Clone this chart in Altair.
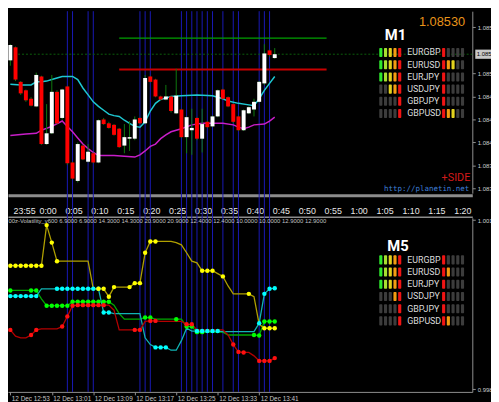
import altair as alt
import pandas as pd

# ---------------- data: M1 candles (minutes after 0:00) ----------------
candle_t = list(range(-6, 46))
candle_open = [1.08522, 1.08539, 1.08494, 1.08483, 1.08472, 1.08462, 1.08501, 1.08413, 1.08427, 1.08481,
               1.08447, 1.08488, 1.08389, 1.08365, 1.08411, 1.08390, 1.08401, 1.08389, 1.08445, 1.08440,
               1.08438, 1.08433, 1.08411, 1.08420, 1.08420, 1.08447, 1.08440, 1.08501, 1.08497, 1.08475,
               1.08471, 1.08475, 1.08453, 1.08458, 1.08422, 1.08431, 1.08447, 1.08420, 1.08442, 1.08436,
               1.08449, 1.08484, 1.08474, 1.08465, 1.08449, 1.08431, 1.08453, 1.08458, 1.08468, 1.08492,
               1.08535, 1.08525]
candle_close = [1.08542, 1.08497, 1.08479, 1.08470, 1.08463, 1.08503, 1.08413, 1.08427, 1.08481, 1.08440,
                1.08484, 1.08388, 1.08368, 1.08413, 1.08393, 1.08403, 1.08389, 1.08444, 1.08439, 1.08434,
                1.08425, 1.08409, 1.08422, 1.08422, 1.08445, 1.08440, 1.08499, 1.08494, 1.08475, 1.08471,
                1.08475, 1.08456, 1.08476, 1.08422, 1.08448, 1.08434, 1.08420, 1.08439, 1.08435, 1.08449,
                1.08483, 1.08472, 1.08462, 1.08442, 1.08431, 1.08457, 1.08461, 1.08468, 1.08494, 1.08531,
                1.08529, 1.08530]
candle_high = [1.08543, 1.08540, 1.08495, 1.08484, 1.08474, 1.08506, 1.08502, 1.08465, 1.08503, 1.08483,
               1.08485, 1.08489, 1.08390, 1.08415, 1.08412, 1.08413, 1.08402, 1.08445, 1.08447, 1.08442,
               1.08439, 1.08434, 1.08439, 1.08443, 1.08449, 1.08448, 1.08503, 1.08502, 1.08498, 1.08476,
               1.08490, 1.08476, 1.08511, 1.08459, 1.08449, 1.08459, 1.08448, 1.08459, 1.08443, 1.08450,
               1.08484, 1.08485, 1.08475, 1.08466, 1.08450, 1.08458, 1.08462, 1.08472, 1.08495, 1.08543,
               1.08536, 1.08538]
candle_low = [1.08515, 1.08495, 1.08477, 1.08468, 1.08462, 1.08461, 1.08412, 1.08412, 1.08426, 1.08439,
              1.08445, 1.08386, 1.08367, 1.08363, 1.08392, 1.08389, 1.08388, 1.08388, 1.08438, 1.08433,
              1.08424, 1.08408, 1.08401, 1.08404, 1.08418, 1.08439, 1.08439, 1.08493, 1.08474, 1.08470,
              1.08470, 1.08454, 1.08452, 1.08421, 1.08401, 1.08399, 1.08418, 1.08402, 1.08434, 1.08435,
              1.08448, 1.08471, 1.08461, 1.08440, 1.08430, 1.08430, 1.08452, 1.08449, 1.08467, 1.08490,
              1.08527, 1.08524]

upper_t = [-6, -4, -2, -1, 0, 1, 2, 4, 6, 7, 8, 9, 10, 11, 12, 13, 14, 15, 16, 17, 18, 19, 20, 21, 22,
           23, 24, 25, 27, 30, 33, 35, 36, 38, 40, 41, 42, 43, 44, 45]
upper_v = [1.08491, 1.08490, 1.08490, 1.08494, 1.08494, 1.08495, 1.08497, 1.08501, 1.08501, 1.08497,
           1.08486, 1.08477, 1.08468, 1.08462, 1.08457, 1.08452, 1.08450, 1.08449, 1.08444, 1.08440,
           1.08436, 1.08435, 1.08442, 1.08456, 1.08466, 1.08471, 1.08473, 1.08475, 1.08476, 1.08477,
           1.08476, 1.08472, 1.08469, 1.08466, 1.08464, 1.08463, 1.08472, 1.08483, 1.08492, 1.08501]
lower_t = [-6, -3, -1, 0, 2, 4, 5, 6, 7, 8, 9, 10, 11, 14, 16, 18, 19, 20, 21, 22, 23, 24, 25, 27, 29,
           31, 35, 37, 38, 39, 40, 41, 43, 44, 45]
lower_v = [1.08424, 1.08426, 1.08427, 1.08431, 1.08436, 1.08443, 1.08436, 1.08429, 1.08421, 1.08413,
           1.08407, 1.08402, 1.08398, 1.08398, 1.08397, 1.08396, 1.08399, 1.08404, 1.08410, 1.08413,
           1.08420, 1.08425, 1.08429, 1.08433, 1.08438, 1.08440, 1.08440, 1.08438, 1.08435, 1.08433,
           1.08435, 1.08438, 1.08439, 1.08443, 1.08448]

level_price = [1.08551, 1.08510]
level_start = [15, 15]
level_end = [55, 55]
current_price = 1.08530
current_start = -4.5

marker_t = [5, 6, 9, 10, 19, 20, 21, 27, 28, 29, 30, 31, 32, 33, 35, 37, 38, 42, 43, 44]

time_tick_t = list(range(-5, 81, 5))
time_tick_labels = ["23:55", "0:00", "0:05", "0:10", "0:15", "0:20", "0:25", "0:30", "0:35",
                    "0:40", "0:45", "0:50", "0:55", "1:00", "1:05", "1:10", "1:15", "1:20"]
price_ticks = [1.08565, 1.08505, 1.08475, 1.08445, 1.08415, 1.08385, 1.08355]

# ---------------- data: volatility panel ----------------
vol_t = list(range(-6, 46))
vol_yellow = [1.00019] * 7 + [1.00091, 1.00060, 1.00027] + [1.00027] * 6 + [
    0.99978, 0.99978, 0.99978, 0.99964, 0.99981, 0.99981, 0.99981, 0.99981, 0.99988, 0.99988,
    1.00042, 1.00062, 1.00062, 1.00062, 1.00062, 1.00062, 1.00060, 1.00056, 1.00042, 1.00027,
    1.00024, 1.00010, 1.00010, 1.00010, 1.00005, 1.00000, 0.99983, 0.99969, 0.99969, 0.99969,
    0.99969, 0.99964, 0.99915, 0.99908, 0.99908, 0.99908]
vol_green = [0.99975] * 6 + [0.99960] + [0.99948] * 5 + [0.99955] * 8 + [0.99949, 0.99934] + \
    [0.99924] * 4 + [0.99927] * 2 + [0.99924] * 6 + [0.99911] * 2 + [0.99901] * 6 + \
    [0.99896] * 6 + [0.99895] + [0.99920] * 3
vol_cyan = [0.99965] * 6 + [0.99978] * 12 + [0.99936] * 2 + [0.99934] * 6 + [0.99891, 0.99879] + \
    [0.99874] * 3 + [0.99869] * 2 + [0.99886, 0.99908, 0.99903] + [0.99903] * 5 + [0.99902] * 7 + \
    [0.99917, 0.99969, 0.99978, 0.99979]
vol_red = [0.99905, 0.99894, 0.99891, 0.99891, 0.99896, 0.99905] + [0.99907] * 4 + \
    [0.99911, 0.99929, 0.99948] + [0.99949] * 7 + [0.99940] + [0.99905] * 5 + [0.99920] + \
    [0.99921] * 2 + [0.99920] * 5 + [0.99915] * 2 + [0.99905] * 6 + \
    [0.99896, 0.99879, 0.99866, 0.99865, 0.99865, 0.99859] + [0.99850] * 3 + [0.99855]

yellow_dots = [-6, -5, -4, -3, -2, -1, 0, 1, 2, 3, 11, 12, 13, 14, 17, 18, 19, 20, 21, 22, 31, 32, 33, 35, 40, 43, 44, 45]
green_dots = [-6, -2, -1, 1, 2, 3, 4, 5, 6, 7, 8, 9, 10, 11, 12, 13, 20, 21, 26, 28, 29, 30, 31, 41, 42, 43, 44, 45]
cyan_dots = [-6, -5, -4, -3, -2, -1, 3, 4, 5, 6, 7, 8, 9, 10, 11, 12, 13, 22, 23, 24, 30, 31, 32, 33, 34, 42, 43, 44, 45]
red_dots = [-6, -2, -1, 4, 5, 6, 7, 8, 9, 10, 11, 12, 18, 19, 21, 22, 28, 29, 37, 38, 39, 42, 43, 44, 45]

date_tick_t = [-6, 2, 10, 18, 26, 34, 42]
date_tick_labels = ["12 Dec 12:53", "12 Dec 13:01", "12 Dec 13:09", "12 Dec 13:17",
                    "12 Dec 13:25", "12 Dec 13:33", "12 Dec 13:41"]
vol_ticks = [1.001, 0.998]
vol_header = ("00z-Volatility_v600 6.9000 6.9000 14.3000 14.3000 20.9000 20.9000 "
              "12.4000 12.4000 10.0000 10.0000 12.9000 12.9000")

# ---------------- data: strength panels ----------------
pairs = ["EURGBP", "EURUSD", "EURJPY", "USDJPY", "GBPJPY", "GBPUSD"]
m1_left = [["G", "L", "Y", "O", "R"], ["G", "L", "Y", "O", "R"], ["G", "L", "Y", "O", "R"],
           ["-", "-", "Y", "O", "R"], ["-", "-", "-", "-", "R"], ["-", "-", "-", "-", "R"]]
m1_right = [["R", "-", "-", "-", "-"], ["R", "O", "Y", "-", "-"], ["R", "-", "-", "-", "-"],
            ["R", "-", "-", "-", "-"], ["R", "-", "-", "-", "-"], ["R", "O", "Y", "-", "-"]]
m5_left = [["G", "L", "Y", "O", "R"], ["G", "L", "Y", "O", "R"], ["G", "L", "Y", "O", "R"],
           ["-", "-", "-", "O", "R"], ["-", "-", "-", "-", "R"], ["-", "-", "-", "-", "R"]]
m5_right = [["R", "-", "-", "-", "-"], ["R", "O", "-", "-", "-"], ["R", "-", "-", "-", "-"],
            ["R", "-", "-", "-", "-"], ["R", "-", "-", "-", "-"], ["R", "O", "-", "-", "-"]]
price_text = "1.08530"

# ---------------- layout / styles ----------------
W, H = 472, 387
T_DOMAIN = [-6.45, 83.11]
PRICE_DOMAIN = [1.08349, 1.08586]
PRICE_RANGE = [185, 0]
VOL_DOMAIN = [0.99795, 1.00104]
VOL_RANGE = [387, 210]
SLOT_DOMAIN = [-78.96, 19.375]
ROW_DOMAIN = [-3.387, 27.823]
NARROW = "Roboto, Liberation Sans, sans-serif"
code_dom = ["G", "L", "Y", "O", "R", "-"]
code_col = ["#2ee62e", "#a6e030", "#e2d21e", "#f39c12", "#f01414", "#3c3c3c"]


def tx(field="t", axis=None):
    return alt.X(f"{field}:Q", scale=alt.Scale(domain=T_DOMAIN, nice=False, zero=False), axis=axis)


def py(field, axis=None):
    return alt.Y(f"{field}:Q", scale=alt.Scale(domain=PRICE_DOMAIN, range=PRICE_RANGE, nice=False, zero=False), axis=axis)


def vy(field="v", axis=None):
    return alt.Y(f"{field}:Q", scale=alt.Scale(domain=VOL_DOMAIN, range=VOL_RANGE, nice=False, zero=False), axis=axis)


def sx(field="s", axis=None):
    return alt.X(f"{field}:Q", scale=alt.Scale(domain=SLOT_DOMAIN, nice=False, zero=False), axis=axis)


def ry(field="r", axis=None):
    return alt.Y(f"{field}:Q", scale=alt.Scale(domain=ROW_DOMAIN, range=[0, H], nice=False, zero=False), axis=axis)


def arr_expr(labels, start, step):
    return "[" + ",".join(f"'{s}'" for s in labels) + f"][round((datum.value - ({start})) / {step})]"


time_axis = alt.Axis(orient="bottom", offset=-200, values=time_tick_t,
                     labelExpr=arr_expr(time_tick_labels, -5, 5), labelAlign="left", labelOffset=-2.5,
                     labelFlush=False, labelOverlap=False, ticks=False, labelPadding=12,
                     labelColor="#e6e6e6", labelFontSize=9, labelFont="Liberation Sans",
                     domainColor="#8c8c8c", domainWidth=3, grid=False, title=None)
date_axis = alt.Axis(orient="bottom", values=date_tick_t, labelExpr=arr_expr(date_tick_labels, -6, 8),
                     labelAlign="left", labelOffset=1, labelFlush=False, labelOverlap=False,
                     tickColor="#909090", tickSize=3, labelPadding=1, labelFontSize=6.5,
                     labelColor="#c8c8c8", labelFont="Liberation Sans", domainColor="#909090",
                     grid=False, title=None)
price_axis = alt.Axis(orient="right", values=price_ticks, format=".5f", labelFontSize=6,
                      labelColor="#d0d0d0", labelFont="Liberation Sans", tickColor="#909090", tickSize=3,
                      labelPadding=2, domainColor="#909090", grid=False, title=None,
                      labelFlush=False, labelOverlap=False)
vol_axis = alt.Axis(orient="right", values=vol_ticks, format=".3f", labelFontSize=6,
                    labelColor="#d0d0d0", labelFont="Liberation Sans", tickColor="#909090", tickSize=3,
                    labelPadding=2, domainColor="#909090", grid=False, title=None,
                    labelFlush=False, labelOverlap=False)
sep_axis = alt.Axis(orient="bottom", offset=-178, labels=False, ticks=False, grid=False, title=None,
                    domainColor="#8c8c8c", domainWidth=1.5)

# ---------------- tables ----------------
candles = pd.DataFrame({"t": candle_t, "open": candle_open, "close": candle_close,
                        "high": candle_high, "low": candle_low})
candles["dir"] = ["up" if c >= o else "down" for o, c in zip(candle_open, candle_close)]
markers = pd.DataFrame({"t": marker_t})
upper = pd.DataFrame({"t": upper_t, "p": upper_v})
lower = pd.DataFrame({"t": lower_t, "p": lower_v})
levels = pd.DataFrame({"start": level_start, "end": level_end, "price": level_price, "kind": ["hi", "lo"]})
current = pd.DataFrame({"start": [current_start], "end": [T_DOMAIN[1]], "price": [current_price],
                        "label": [f"{current_price:.5f}"]})

series_names = ["green", "cyan", "red", "yellow"]
series_vals = {"yellow": vol_yellow, "green": vol_green, "cyan": vol_cyan, "red": vol_red}
series_dots = {"yellow": yellow_dots, "green": green_dots, "cyan": cyan_dots, "red": red_dots}
line_cols = ["#00a800", "#10b4b4", "#b40000", "#b0a000"]
dot_cols = ["#00ff00", "#00ffff", "#ff1010", "#ffff00"]
rows = []
for name in series_names:
    for t, v in zip(vol_t, series_vals[name]):
        rows.append({"t": t, "v": v, "series": name, "dot": t in series_dots[name]})
vol = pd.DataFrame(rows)

blocks = []
labels = []
for base, left, right in [(0, m1_left, m1_right), (17, m5_left, m5_right)]:
    for i, pair in enumerate(pairs):
        labels.append({"s": 5.6, "r": base + i, "text": pair})
        for j, code in enumerate(left[i]):
            blocks.append({"s": j, "r": base + i, "code": code})
        for j, code in enumerate(right[i]):
            blocks.append({"s": 13.3 + j, "r": base + i, "code": code})
blocks = pd.DataFrame(blocks)
labels = pd.DataFrame(labels)
titles = pd.DataFrame({"s": [3.1, 3.65], "r": [-1.41, 15.86], "text": ["M1", "M5"]})

# ---------------- layers ----------------
blue = alt.Chart(markers).mark_rule(color="#1a1ab8", strokeWidth=1).encode(x=tx("t", time_axis))

lvl = alt.Chart(levels).mark_rule().encode(
    x=tx("start"), x2="end:Q", y=py("price"),
    color=alt.Color("kind:N", scale=alt.Scale(domain=["hi", "lo"], range=["#00a000", "#c80000"]), legend=None),
    strokeWidth=alt.StrokeWidth("kind:N", scale=alt.Scale(domain=["hi", "lo"], range=[1.2, 2]), legend=None))
cur = alt.Chart(current).mark_rule(color="#0b5f0b", strokeDash=[2, 2], strokeWidth=1).encode(
    x=tx("start"), x2="end:Q", y=py("price"))

up_line = alt.Chart(upper).mark_line(color="#1ec8d2", strokeWidth=1.5).encode(x=tx("t"), y=py("p"))
lo_line = alt.Chart(lower).mark_line(color="#c81ec8", strokeWidth=1.5).encode(x=tx("t"), y=py("p"))

wicks = alt.Chart(candles).mark_rule(color="#0f7a0f", strokeWidth=1).encode(
    x=tx("t"), y=py("low"), y2="high:Q")
bodies = alt.Chart(candles).mark_rule(strokeWidth=4).encode(
    x=tx("t"), y=py("open", price_axis), y2="close:Q",
    color=alt.Color("dir:N", scale=alt.Scale(domain=["up", "down"], range=["#ffffff", "#ff0000"]), legend=None))

cur_box = alt.Chart(current).mark_rect(color="#c8c8c8").transform_calculate(
    lo="datum.price - 0.00006", hi="datum.price + 0.00006").encode(
    x=alt.value(475), x2=alt.value(495), y=py("lo"), y2="hi:Q")
cur_txt = alt.Chart(current).mark_text(align="left", baseline="middle", fontSize=6, color="#000000",
                                       font="Liberation Sans").encode(
    x=alt.value(476.5), y=py("price"), text="label:N")

vol_lines = alt.Chart(vol).mark_line(strokeWidth=1.3).encode(
    x=tx("t", date_axis), y=vy("v", vol_axis),
    color=alt.Color("series:N", scale=alt.Scale(domain=series_names, range=line_cols), legend=None))
vol_pts = alt.Chart(vol).transform_filter("datum.dot").mark_circle(size=20, opacity=1).encode(
    x=tx("t"), y=vy("v"),
    color=alt.Color("series:N", scale=alt.Scale(domain=series_names, range=dot_cols), legend=None))

blk = alt.Chart(blocks).transform_calculate(
    x0="datum.s - 0.33", x1="datum.s + 0.33", y0="datum.r - 0.37", y1="datum.r + 0.37").mark_rect(
    cornerRadius=1).encode(
    x=sx("x0", sep_axis), x2="x1:Q", y=ry("y0"), y2="y1:Q",
    color=alt.Color("code:N", scale=alt.Scale(domain=code_dom, range=code_col), legend=None))
lab = alt.Chart(labels).mark_text(align="left", baseline="middle", fontSize=9, color="#dcdcdc",
                                  font=NARROW).encode(x=sx("s"), y=ry("r"), text="text:N")
ttl = alt.Chart(titles).mark_text(align="center", baseline="middle", fontSize=15, fontWeight="bold",
                                  color="#ffffff", font=NARROW).encode(x=sx("s"), y=ry("r"), text="text:N")

ann = pd.DataFrame({
    "s": [17.85, 18.96, 18.75],
    "r": [-2.52, 10.32, 11.21],
    "text": [price_text, "+SIDE", "http://planetin.net"],
    "kind": ["price", "side", "url"],
})
price_big = alt.Chart(ann).transform_filter("datum.kind == 'price'").mark_text(
    align="right", baseline="middle", fontSize=13, color="#e8941a", font="Liberation Sans").encode(
    x=sx("s"), y=ry("r"), text="text:N")
side = alt.Chart(ann).transform_filter("datum.kind == 'side'").mark_text(
    align="right", baseline="middle", fontSize=11, color="#d41a1a", font=NARROW).encode(
    x=sx("s"), y=ry("r"), text="text:N")
url = alt.Chart(ann).transform_filter("datum.kind == 'url'").mark_text(
    align="right", baseline="middle", fontSize=7.6, color="#3f7fd6", font="DejaVu Sans Mono").encode(
    x=sx("s"), y=ry("r"), text="text:N")
header = alt.Chart(pd.DataFrame({"s": [SLOT_DOMAIN[0] + 0.1], "r": [13.85], "text": [vol_header]})).mark_text(
    align="left", baseline="middle", fontSize=6, color="#c0c0c0", font="Liberation Sans").encode(
    x=sx("s"), y=ry("r"), text="text:N")

chart = alt.layer(
    blue, lvl, cur, up_line, lo_line, wicks, bodies, cur_box, cur_txt,
    vol_lines, vol_pts, blk, lab, ttl, price_big, side, url, header,
).resolve_scale(
    x="independent", y="independent", color="independent", strokeWidth="independent"
).properties(
    width=W, height=H,
    autosize=alt.AutoSizeParams(type="none"),
    padding={"left": 0, "top": 0, "right": 19, "bottom": 7},
).configure(background="#000000").configure_view(stroke=None)

chart.save("out.html", embed_options={"renderer": "svg", "actions": False})
